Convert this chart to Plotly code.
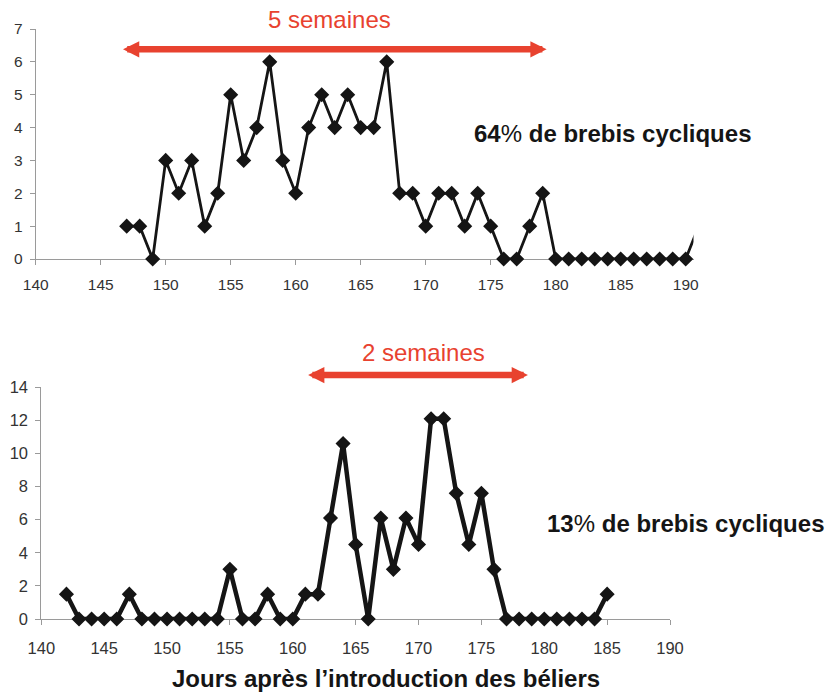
import plotly.graph_objects as go

# ---- data ----
top_days = list(range(147, 192))
top_vals = [1, 1, 0, 3, 2, 3, 1, 2, 5, 3, 4, 6, 3, 2, 4, 5, 4, 5, 4, 4, 6,
            2, 2, 1, 2, 2, 1, 2, 1, 0, 0, 1, 2,
            0, 0, 0, 0, 0, 0, 0, 0, 0, 0, 0,
            1]
bot_days = list(range(142, 186))
bot_vals = [1.5, 0, 0, 0, 0, 1.5, 0, 0, 0, 0, 0, 0, 0, 3.0, 0, 0, 1.5, 0, 0,
            1.5, 1.5, 6.1, 10.6, 4.5, 0, 6.1, 3.0, 6.1, 4.5, 12.1, 12.1, 7.6,
            4.5, 7.6, 3.0,
            0, 0, 0, 0, 0, 0, 0, 0,
            1.5]
x_ticks = [140, 145, 150, 155, 160, 165, 170, 175, 180, 185, 190]
top_y_ticks = [0, 1, 2, 3, 4, 5, 6, 7]
bot_y_ticks = [0, 2, 4, 6, 8, 10, 12, 14]

top_span = (146.6, 179.3)
bot_span = (161.1, 178.7)
top_label = "5 semaines"
bot_label = "2 semaines"
top_note = "<b>64</b>%<b> de brebis cycliques</b>"
bot_note = "<b>13</b>%<b> de brebis cycliques</b>"
x_title = "<b>Jours après l\u2019introduction des béliers</b>"

FONT = "Liberation Sans, Arial, sans-serif"
RED = "#e8422f"
INK = "#151515"
AX = "#9a9a9a"

W, H = 828, 693

fig = go.Figure()

# top series: last point only continues the line (clipped by the plot area)
top_sizes = [10] * (len(top_days) - 1) + [0]
fig.add_trace(go.Scatter(
    x=top_days, y=top_vals, mode="lines+markers",
    line=dict(color=INK, width=2.8),
    marker=dict(symbol="diamond", size=top_sizes, color=INK, opacity=1,
                line=dict(color=INK, width=1.5)),
    cliponaxis=False, xaxis="x", yaxis="y", hoverinfo="x+y"))

fig.add_trace(go.Scatter(
    x=bot_days, y=bot_vals, mode="lines+markers",
    line=dict(color=INK, width=4.5),
    marker=dict(symbol="diamond", size=10, color=INK, opacity=1,
                line=dict(color=INK, width=1.5)),
    cliponaxis=False, xaxis="x2", yaxis="y2", hoverinfo="x+y"))

axis_common = dict(showgrid=False, zeroline=False, showline=True,
                   linecolor=AX, linewidth=1, ticks="outside", ticklen=5,
                   tickcolor=AX, tickwidth=1, layer="below traces",
                   automargin=False)

fig.update_layout(
    template="none",
    width=W, height=H,
    margin=dict(l=0, r=0, t=0, b=0, pad=0, autoexpand=False),
    paper_bgcolor="white", plot_bgcolor="white",
    showlegend=False,
    font=dict(family=FONT, color=INK),
    xaxis=dict(domain=[35.7 / W, 693.5 / W], range=[140, 190.6],
               tickvals=x_ticks, anchor="y",
               tickfont=dict(size=15.5, color="#333"), ticklabelstandoff=6,
               **axis_common),
    yaxis=dict(domain=[1 - 259 / H, 1 - 29 / H], range=[0, 7],
               tickvals=top_y_ticks, anchor="x",
               tickfont=dict(size=15.5, color="#333"), ticklabelstandoff=4,
               **axis_common),
    xaxis2=dict(domain=[41.3 / W, 670 / W], range=[140, 190],
                tickvals=x_ticks, anchor="y2",
                tickfont=dict(size=16.5, color="#333"), ticklabelstandoff=9,
                **axis_common),
    yaxis2=dict(domain=[1 - 619 / H, 1 - 387.3 / H], range=[0, 14],
                tickvals=bot_y_ticks, anchor="x2",
                tickfont=dict(size=16.5, color="#333"), ticklabelstandoff=4,
                **axis_common),
)

arrow_common = dict(text="", showarrow=True, arrowhead=2, startarrowhead=2,
                    arrowside="end+start", arrowsize=0.5, startarrowsize=0.5,
                    arrowwidth=6.5, arrowcolor=RED, standoff=0, startstandoff=0,
                    ayref="pixel", ay=0, yref="paper")

text_common = dict(xref="paper", yref="paper", showarrow=False,
                   xanchor="center", yanchor="middle", borderpad=0)

annotations = [
    dict(x=top_span[1], ax=top_span[0], xref="x", axref="x",
         y=1 - 49.3 / H, **arrow_common),
    dict(x=bot_span[1], ax=bot_span[0], xref="x2", axref="x2",
         y=1 - 375 / H, **arrow_common),
    dict(text=top_label, x=329 / W, y=1 - 20 / H,
         font=dict(size=24, color=RED, family=FONT), **text_common),
    dict(text=bot_label, x=423 / W, y=1 - 352 / H,
         font=dict(size=24, color=RED, family=FONT), **text_common),
    dict(text=top_note, x=612 / W, y=1 - 133 / H,
         font=dict(size=24, color=INK, family=FONT), **text_common),
    dict(text=bot_note, x=685 / W, y=1 - 523 / H,
         font=dict(size=24, color=INK, family=FONT), **text_common),
    dict(text=x_title, x=386 / W, y=1 - 678.5 / H,
         font=dict(size=24, color=INK, family=FONT), **text_common),
]
fig.update_layout(annotations=annotations)

fig.write_html(
    "out.html",
    config={"displayModeBar": False},
    post_script="document.body.style.margin='0';"
                "document.body.style.padding='0';"
                "document.body.style.overflow='hidden';",
)
